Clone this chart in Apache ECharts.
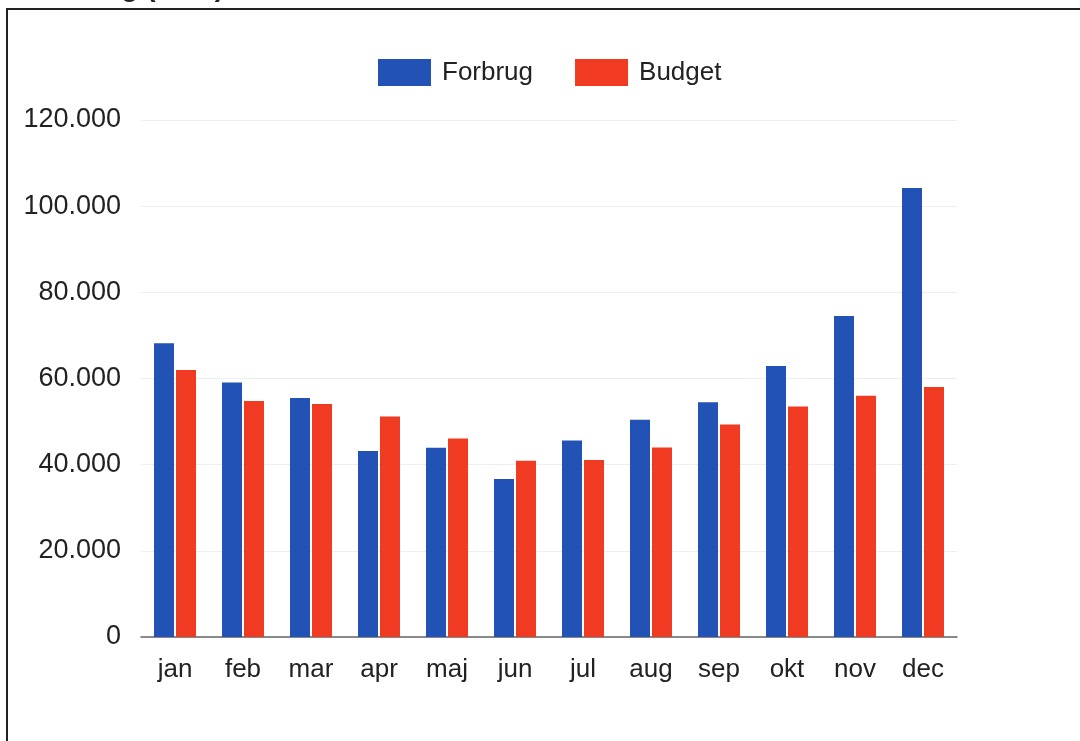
<!DOCTYPE html>
<html>
<head>
<meta charset="utf-8">
<script src="https://cdn.jsdelivr.net/npm/echarts@6/dist/echarts.min.js"></script>
<style>html,body{margin:0;padding:0;background:#fff;}#c{width:1080px;height:741px;}</style>
</head>
<body>
<div id="c"></div>
<script>
const categories = ['jan','feb','mar','apr','maj','jun','jul','aug','sep','okt','nov','dec'];
const forbrug = [68200, 59100, 55500, 43200, 43900, 36700, 45600, 50400, 54500, 62900, 74500, 104200];
const budget  = [62000, 54800, 54100, 51200, 46100, 40900, 41100, 44000, 49300, 53500, 56000, 58000];
const yTicks = [0, 20000, 40000, 60000, 80000, 100000, 120000];

const chart = echarts.init(document.getElementById('c'));
const font = 'Liberation Sans, Arial, sans-serif';
chart.setOption({
  animation: false,
  backgroundColor: '#fff',
  graphic: [
    { type: 'rect', shape: { x: 7, y: 9, width: 1100, height: 800 }, style: { fill: 'none', stroke: '#222', lineWidth: 2 }, z: 10 },
    { type: 'text', x: 224, y: 2, style: { text: 'Forbrug (kWh)', font: 'bold 28px Liberation Sans, Arial, sans-serif', fill: '#222', textAlign: 'right', textVerticalAlign: 'bottom' }, z: 10 }
  ],
  legend: {
    top: 54, left: 373,
    icon: 'rect',
    itemWidth: 53, itemHeight: 27, itemGap: 42,
    textStyle: { fontFamily: font, fontSize: 26, color: '#222', padding: [0, 0, 0, 6] },
    data: ['Forbrug', 'Budget']
  },
  grid: { left: 141, right: 123, top: 120, bottom: 104, containLabel: false },
  xAxis: {
    type: 'category',
    data: categories,
    axisLine: { lineStyle: { color: '#666', width: 1.5 } },
    axisTick: { show: false },
    axisLabel: { fontFamily: font, fontSize: 26, color: '#222', margin: 20 }
  },
  yAxis: {
    type: 'value',
    min: 0, max: 120000, interval: 20000,
    axisLine: { show: false },
    axisTick: { show: false },
    splitLine: { lineStyle: { color: '#eeeeee', width: 1 } },
    axisLabel: {
      fontFamily: font, fontSize: 27, color: '#222', margin: 20,
      formatter: v => yTicks.includes(v) ? (v === 0 ? '0' : (v / 1000).toFixed(0) + '.000') : ''
    }
  },
  series: [
    { name: 'Forbrug', type: 'bar', data: forbrug, barWidth: 20, barGap: '10%', itemStyle: { color: '#2352b6' } },
    { name: 'Budget', type: 'bar', data: budget, barWidth: 20, barGap: '10%', itemStyle: { color: '#f03a22' } }
  ]
});
</script>
</body>
</html>
